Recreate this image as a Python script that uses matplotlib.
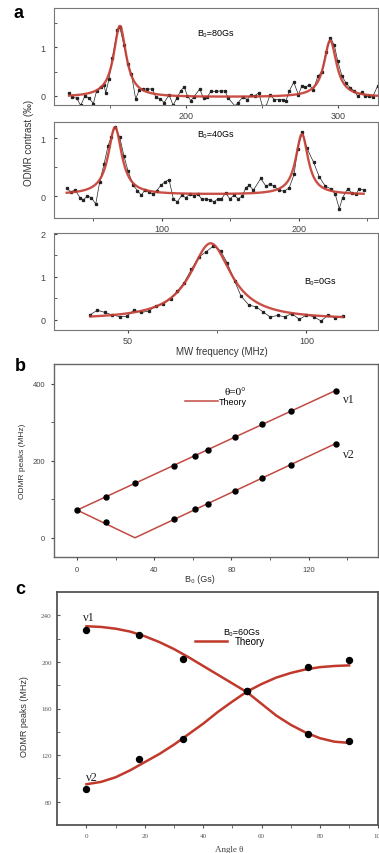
import numpy as np
import matplotlib
matplotlib.use('Agg')
import matplotlib.pyplot as plt

SANS = ['Liberation Sans', 'DejaVu Sans']
SERIF = ['Liberation Serif', 'DejaVu Serif']
plt.rcParams['font.family'] = SANS

# ---- panel a: ODMR spectra (B0 = 80, 40, 0 Gs) ----
a1_freq = [122.9, 125, 128, 130.5, 133.4, 136, 138.9, 141, 143.7, 145.9, 147, 149.2,
           151.4, 154.7, 156.2, 159, 161.7, 163.9, 166.7, 169, 171.8, 174.4, 177.7,
           179.9, 182.7, 185.4, 188.7, 191.3, 193.7, 196.3, 198.5, 200.7, 202.9, 205,
           208.8, 211.3, 213.9, 216.1, 219.4, 222.5, 225.3, 227.6, 232, 234, 237.4,
           240, 242.4, 245, 247.6, 250, 252.5, 255, 257.9, 260.7, 263.3, 265.5, 267.7,
           270.6, 273.7, 276, 278.2, 280.9, 283.5, 286.4, 289.2, 291.8, 294.7, 297.3,
           299.5, 302.3, 305, 307.6, 310.4, 312.6, 315.2, 317.6, 320.3, 322.4, 325.7]
a1_odmr = [0.06, -0.03, -0.05, -0.2, 0.0, -0.05, -0.16, 0.1, 0.19, 0.22, 0.06, 0.35,
           0.78, 1.35, 1.42, 1.04, 0.66, 0.45, -0.07, 0.12, 0.14, 0.14, 0.14,
           -0.03, -0.06, -0.14, 0.02, -0.2, -0.05, 0.1, 0.19, 0.0, -0.1, -0.02,
           0.14, -0.05, -0.02, 0.09, 0.09, 0.1, 0.1, -0.05, -0.21, -0.14, -0.02,
           -0.08, 0.02, 0.0, 0.06, -0.21, -0.21, 0.02, -0.08, -0.08, -0.08, -0.1, 0.1,
           0.28, 0.02, 0.21, 0.18, 0.22, 0.12, 0.40, 0.50, 0.9, 1.2, 1.04,
           0.72, 0.41, 0.26, 0.17, 0.1, -0.01, 0.07, -0.01, -0.01, -0.03, 0.2]
a1_centers = [156.3, 294.6]
a1_amps = [1.47, 1.17]
a1_hwhm = [5.0, 5.0]
a1_base = -0.03

a2_freq = [30.5, 33.4, 36.6, 40.2, 42.7, 45.6, 48.5, 51.7, 54.6, 57.8, 60.7, 63.1,
           65.8, 69.2, 72.4, 75.3, 79.2, 82.2, 85.1, 87.5, 90.7, 93.9, 96.3, 99.2,
           102.2, 105.3, 108.5, 111.4, 114.6, 117.5, 120.4, 123.6, 126.5, 129.2,
           132.1, 135.3, 138.3, 141, 143.6, 146.7, 149.7, 152.8, 155.8, 158.9, 161.4,
           163.8, 167, 172.3, 176, 179.2, 182.1, 185.3, 189.4, 193.1, 196.7, 199.2,
           202.8, 206, 210.9, 215, 219.4, 223.6, 226.7, 229.7, 232.1, 235.8, 239,
           241.9, 244.3, 247.5]
a2_odmr = [0.14, 0.08, 0.11, -0.02, -0.06, 0.01, -0.02, -0.13, 0.25, 0.56, 0.87, 1.03,
           1.19, 1.02, 0.69, 0.44, 0.19, 0.1, 0.02, 0.11, 0.07, 0.04, 0.1, 0.19,
           0.25, 0.29, -0.05, -0.09, 0.02, -0.02, 0.04, 0.01, 0.04, -0.05,
           -0.04, -0.06, -0.09, -0.04, -0.04, 0.06, -0.04, 0.02, -0.04, 0.01, 0.15,
           0.19, 0.11, 0.31, 0.18, 0.21, 0.18, 0.11, 0.09, 0.15, 0.38, 0.82,
           1.11, 0.83, 0.59, 0.34, 0.18, 0.13, 0.04, -0.21, -0.02, 0.13, 0.06,
           0.04, 0.13, 0.11]
a2_centers = [65.8, 202.4]
a2_amps = [1.16, 1.04]
a2_hwhm = [6.0, 5.5]
a2_base = 0.03

a3_freq = [39.6, 41.5, 43.6, 45.7, 47.8, 49.7, 51.7, 53.8, 55.9, 57.8, 59.8, 62.0,
           63.8, 65.7, 67.8, 69.9, 71.9, 74.0, 76.0, 77.8, 79.9, 81.7, 83.9, 85.9,
           87.9, 89.9, 91.9, 93.9, 95.9, 98.0, 100.0, 102.0, 104.1, 106.1, 108.1, 110.1]
a3_odmr = [0.12, 0.22, 0.17, 0.11, 0.07, 0.08, 0.22, 0.17, 0.2, 0.32, 0.36, 0.49,
           0.66, 0.85, 1.17, 1.46, 1.58, 1.72, 1.6, 1.33, 0.9, 0.55, 0.34, 0.3,
           0.18, 0.06, 0.1, 0.07, 0.14, 0.01, 0.11, 0.07, -0.03, 0.11, 0.04, 0.08]
a3_centers = [73.2]
a3_amps = [1.78]
a3_hwhm = [7.0]
a3_base = 0.0

# ---- panel b: peak positions vs B0 (theta = 0) ----
b_field1 = [0, 15, 30, 50, 61, 68, 82, 96, 111, 134]
b_nu1 = [72, 106, 142, 187, 212, 229, 262, 297, 331, 383]
b_field2 = [15, 50, 61, 68, 82, 96, 111, 134]
b_nu2 = [42, 48, 74, 89, 122, 155, 189, 245]
b_theory1_field = [0, 134]
b_theory1 = [72, 383]
b_theory2_field = [0, 30, 134]
b_theory2 = [72, 0, 245]

# ---- panel c: peak positions vs angle (B0 = 60 Gs) ----
c_angle = [0, 18, 33, 55, 76, 90]
c_nu1 = [227.7, 222.9, 202.6, 175.4, 137.7, 132.0]
c_nu2 = [91.2, 116.3, 133.5, 175.4, 195.4, 201.4]
c_theory_angle = [0, 5, 10, 15, 20, 25, 30, 35, 40, 45, 50, 55, 60, 65, 70, 75, 80, 85, 90]
c_theory1 = [230.6, 230, 228.5, 226, 222, 217, 211, 204, 196.5, 189, 181.5, 174,
             164, 154, 146, 139.5, 134.5, 131.5, 130.5]
c_theory2 = [95, 97, 101, 107, 114, 121, 129, 138, 147, 157, 166, 174.5,
             181, 186.5, 190.5, 193.5, 195.5, 196.5, 197]

RED_A = '#c43c32'
RED_B = '#c24a44'
RED_C = '#c0392b'
W, H = 379, 854


def lorentz(x, centers, amps, widths, base):
    y = np.full_like(x, base, dtype=float)
    for c, a, w in zip(centers, amps, widths):
        y += a * w**2 / ((x - c)**2 + w**2)
    return y


def fx(px):
    return px / W


def fy(py):
    return 1 - py / H


fig = plt.figure(figsize=(3.79, 8.54), dpi=100)

# ---------- panel a ----------
a_specs = [
    (a1_freq, a1_odmr, a1_centers, a1_amps, a1_hwhm, a1_base, (9, 106), (113, 326),
     (-0.19, 1.81), [200, 300], [150, 250], [0, 1], [0.5, 1.5], 'B₀=80Gs', (0.50, 0.75)),
    (a2_freq, a2_odmr, a2_centers, a2_amps, a2_hwhm, a2_base, (123, 219), (21.2, 258),
     (-0.37, 1.28), [100, 200], [50, 150, 250], [0, 1], [0.5], 'B₀=40Gs', (0.50, 0.875)),
    (a3_freq, a3_odmr, a3_centers, a3_amps, a3_hwhm, a3_base, (234, 331), (29.4, 120),
     (-0.24, 2.02), [50, 100], [75], [0, 1, 2], [0.5, 1.5], 'B₀=0Gs', (0.82, 0.51)),
]
for (fq, od, cen, amp, hw, base, (top, bot), xl, yl, xmaj, xmin, ymaj, ymin,
     lab, lpos) in a_specs:
    ax = fig.add_axes([fx(54), fy(bot), fx(378) - fx(54), (bot - top) / H])
    ax.plot(fq, od, color='#222222', lw=0.5, marker='s', ms=1.4)
    xf = np.linspace(min(fq), max(fq), 600)
    ax.plot(xf, lorentz(xf, cen, amp, hw, base), color=RED_A, lw=1.7, alpha=0.9)
    ax.set_xlim(*xl)
    ax.set_ylim(*yl)
    ax.set_xticks(xmaj)
    ax.set_xticks(xmin, minor=True)
    ax.set_yticks(ymaj)
    ax.set_yticks(ymin, minor=True)
    ax.tick_params(axis='x', which='both', direction='out', labelsize=6.5, pad=2,
                   colors='#444444', length=2.5)
    ax.tick_params(axis='y', which='both', direction='in', labelsize=6.5, pad=6,
                   colors='#444444', length=2.5)
    for s in ax.spines.values():
        s.set_color('#777777')
        s.set_linewidth(0.8)
    ax.text(lpos[0], lpos[1], lab, transform=ax.transAxes, fontsize=6.5,
            ha='center', va='center', family=SANS)

fig.text(fx(29), fy(143), 'ODMR contrast (‰)', rotation=90, ha='center', va='center',
         fontsize=7, color='#333333', family=SANS)
fig.text(fx(222), fy(352), 'MW frequency (MHz)', ha='center', va='center',
         fontsize=7, color='#333333')

# ---------- panel b ----------
axb = fig.add_axes([fx(54), fy(558), fx(378) - fx(54), (558 - 365) / H])
axb.plot(b_theory1_field, b_theory1, color=RED_B, lw=1.1, label='Theory')
axb.plot(b_theory2_field, b_theory2, color=RED_B, lw=1.1)
axb.plot(b_field1, b_nu1, 'o', color='black', ms=3.6)
axb.plot(b_field2, b_nu2, 'o', color='black', ms=3.6)
axb.set_xlim(-12, 156)
axb.set_ylim(-50, 452)
axb.set_xticks([0, 40, 80, 120])
axb.set_xticks([20, 60, 100, 140], minor=True)
axb.set_yticks([0, 200, 400])
axb.set_yticks([100, 300], minor=True)
axb.tick_params(which='both', direction='out', labelsize=5.5, colors='#444444',
                length=2.5, pad=4)
for s in axb.spines.values():
    s.set_color('#666666')
    s.set_linewidth(1.0)
axb.set_ylabel('ODMR peaks (MHz)', fontsize=6, color='#333333')
axb.yaxis.set_label_coords(-(54 - 26) / 324, 0.5)
axb.set_xlabel('B₀ (Gs)', fontsize=6.5, color='#333333')
axb.xaxis.set_label_coords((200 - 54) / 324, -(575 - 558) / 193)
axb.text(0.559, 0.86, 'θ=0°', transform=axb.transAxes, fontsize=8, ha='center',
         va='center', family=SERIF)
axb.legend(loc='center left', bbox_to_anchor=((185 - 54) / 324, (558 - 403) / 193),
           frameon=False, fontsize=6.5, handlelength=3.6, handletextpad=0.15,
           borderpad=0, borderaxespad=0)
axb.text(0.892, 0.819, 'ν1', transform=axb.transAxes, fontsize=9, ha='left',
         va='center', family=SERIF, color='#222222')
axb.text(0.892, 0.534, 'ν2', transform=axb.transAxes, fontsize=9, ha='left',
         va='center', family=SERIF, color='#222222')

# ---------- panel c ----------
axc = fig.add_axes([fx(57.3), fy(826), fx(378.3) - fx(57.3), (826 - 593) / H])
axc.plot(c_theory_angle, c_theory1, color=RED_C, lw=1.8, label='Theory')
axc.plot(c_theory_angle, c_theory2, color=RED_C, lw=1.8)
axc.plot(c_angle, c_nu1, 'o', color='black', ms=4.3)
axc.plot(c_angle, c_nu2, 'o', color='black', ms=4.3)
axc.set_xlim(-10, 100)
axc.set_ylim(60, 260)
axc.set_xticks([0, 20, 40, 60, 80, 100])
axc.set_xticks([10, 30, 50, 70, 90], minor=True)
axc.set_yticks([80, 120, 160, 200, 240])
axc.set_yticks([100, 140, 180, 220], minor=True)
axc.tick_params(axis='x', which='both', direction='out', labelsize=5, colors='#555555',
                length=2.5, pad=3)
axc.tick_params(axis='y', which='both', direction='in', labelsize=5, colors='#555555',
                length=2.5, pad=4)
for lbl in axc.get_xticklabels() + axc.get_yticklabels():
    lbl.set_family(SERIF)
for s in axc.spines.values():
    s.set_color('#555555')
    s.set_linewidth(1.3)
axc.set_ylabel('ODMR peaks (MHz)', fontsize=6.5, color='#333333')
axc.yaxis.set_label_coords(-(57.3 - 29) / 321, (826 - 717) / 233)
axc.set_xlabel('Angle θ', fontsize=6.5, color='#444444', family=SERIF)
axc.xaxis.set_label_coords((229 - 57.3) / 321, -(846 - 826) / 233)
axc.text(0.574, 0.83, 'B₀=60Gs', transform=axc.transAxes, fontsize=6.5, ha='center',
         va='center')
axc.legend(loc='center left', bbox_to_anchor=((195 - 57.3) / 321, (826 - 642.3) / 233),
           frameon=False, fontsize=7, handlelength=3.3, handletextpad=0.8,
           borderpad=0, borderaxespad=0)
axc.text(0.08, 0.893, 'ν1', transform=axc.transAxes, fontsize=9, ha='left',
         va='center', family=SERIF, color='#222222')
axc.text(0.089, 0.206, 'ν2', transform=axc.transAxes, fontsize=9, ha='left',
         va='center', family=SERIF, color='#222222')

# panel letters
for letter, (px, py) in zip('abc', [(19, 14), (20, 367), (20, 590)]):
    fig.text(fx(px), fy(py), letter, fontsize=13, fontweight='bold', ha='center',
             va='center')

fig.savefig('out.png', dpi=100)
